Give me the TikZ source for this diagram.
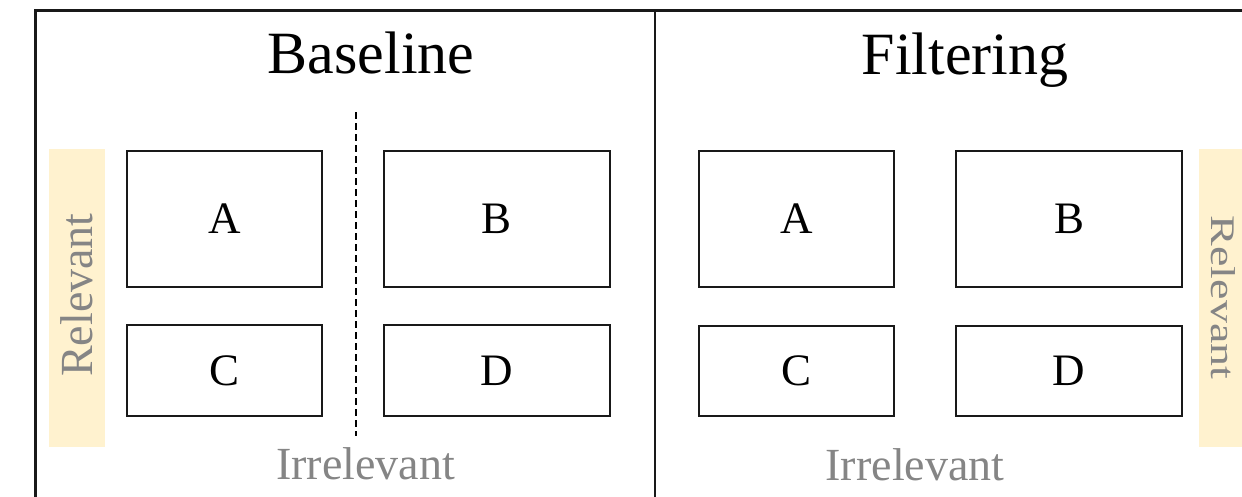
\documentclass[tikz,border=0pt]{standalone}
\usepackage{fontspec}
\setmainfont{Liberation Serif}
\definecolor{relbar}{HTML}{FFF2CF}
\definecolor{labelgray}{HTML}{858585}
\tikzset{
  panelline/.style={line width=2.4pt, draw=black!90},
  cell/.style={draw=black!90, line width=2.4pt, inner sep=0pt, font=\fontsize{45}{45}\selectfont},
  title/.style={anchor=base, font=\fontsize{60}{60}\selectfont},
  graylabel/.style={text=labelgray, anchor=base, font=\fontsize{46}{46}\selectfont, inner sep=0pt},
}
\begin{document}
\begin{tikzpicture}[x=1pt,y=-1pt]
\clip (0,0) rectangle (1242,496);
% frame and panel divider
\draw[panelline] (35.5,520) -- (35.5,10.5) -- (1260,10.5);
\draw[panelline] (655,10.5) -- (655,520);
% relevance bars
\fill[relbar] (49,149) rectangle (105,447);
\fill[relbar] (1199,149) rectangle (1260,447);
% titles
\node[title] (tb) at (371,73.5) {Baseline};
\node[title] (tf) at (965,74) {Filtering};
% baseline panel cells
\node[cell, minimum width=195pt, minimum height=136pt] (bA) at (224.5,219) {A};
\node[cell, minimum width=226pt, minimum height=136pt] (bB) at (497,219) {B};
\node[cell, minimum width=195pt, minimum height=91pt] (bC) at (224.5,370.5) {C};
\node[cell, minimum width=226pt, minimum height=91pt] (bD) at (497,370.5) {D};
% filtering panel cells
\node[cell, minimum width=195pt, minimum height=136pt] (fA) at (796.5,219) {A};
\node[cell, minimum width=226pt, minimum height=136pt] (fB) at (1069,219) {B};
\node[cell, minimum width=195pt, minimum height=90pt] (fC) at (796.5,371) {C};
\node[cell, minimum width=226pt, minimum height=90pt] (fD) at (1069,371) {D};
% split line in the baseline panel
\coordinate (dtop) at (355.5,112);
\coordinate (dbot) at (355.5,436);
\draw[line width=2pt, dash pattern=on 7pt off 4pt] (dtop) -- (dbot);
% axis labels
\node[graylabel] (irrB) at (365.5,479) {Irrelevant};
\node[graylabel] (irrF) at (915,480) {Irrelevant};
\node[graylabel, rotate=90] (relB) at (92,295) {Relevant};
\node[graylabel, rotate=-90, yscale=0.75] (relF) at (1211,297.5) {Relevant};
\end{tikzpicture}
\end{document}
